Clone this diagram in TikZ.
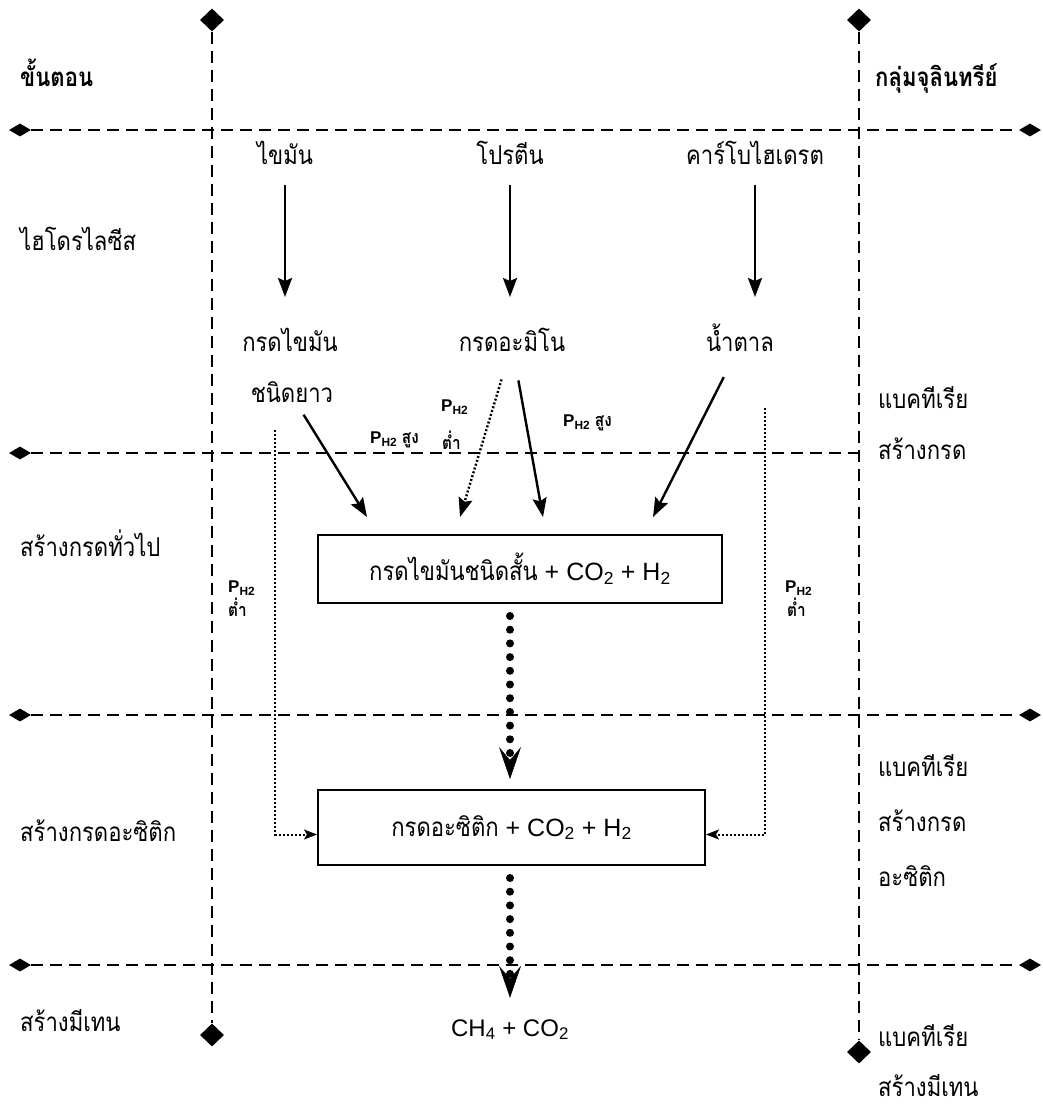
\documentclass[tikz,border=0pt]{standalone}
\usepackage{fontspec}
\setmainfont{Liberation Sans}
\newfontfamily\thai[Script=Thai,FakeStretch=0.85]{Loma}
\usetikzlibrary{arrows.meta,shapes.geometric}
\begin{document}
\begin{tikzpicture}[x=1pt,y=-1pt,
  grid/.style={line width=2.8pt,dash pattern=on 12pt off 7pt},
  vdia/.style={diamond,fill=black,inner sep=0pt,minimum width=24pt,minimum height=23pt},
  hdia/.style={diamond,fill=black,inner sep=0pt,minimum width=22pt,minimum height=13pt},
  th/.style={font=\thai\fontsize{26}{30}\selectfont,inner sep=0pt,text height=19pt,text depth=7pt},
  lbl/.style={th,anchor=west},
  hdr/.style={lbl,font=\thai\bfseries\fontsize{26}{30}\selectfont},
  box/.style={draw,line width=2pt,inner sep=0pt,font=\fontsize{25}{29}\selectfont},
  arr/.style={line width=2.4pt,-{Stealth[length=19pt,width=14pt,inset=3pt]}},
  tdot/.style={line width=2pt,dash pattern=on 2pt off 2pt},
  sarr/.style={-{Stealth[length=13pt,width=10pt,inset=3pt]}},
  bdot/.style={line width=8pt,line cap=round,dash pattern=on 0pt off 13.7pt,
    -{Stealth[length=32pt,width=22pt,inset=13pt,line width=0.5pt]}},
  ph/.style={font=\bfseries\fontsize{17}{19}\selectfont,inner sep=0pt,anchor=west},
  phth/.style={font=\thai\bfseries\fontsize{18}{20}\selectfont,inner sep=0pt,anchor=west}
]
\useasboundingbox (0,0) rectangle (1042,1106);
% grid lines
\node[vdia] (dTL) at (212,20) {};
\node[vdia] (dBL) at (212,1035) {};
\node[vdia] (dTR) at (859,20) {};
\node[vdia] (dBR) at (859,1052) {};
\draw[grid] (dTL) -- (dBL);
\draw[grid] (dTR) -- (dBR);
\node[hdia] (h1L) at (20,130) {};
\node[hdia] (h1R) at (1030,130) {};
\node[hdia] (h2L) at (20,453) {};
\coordinate (h2R) at (858,453);
\node[hdia] (h3L) at (20,715) {};
\node[hdia] (h3R) at (1030,715) {};
\node[hdia] (h4L) at (20,965) {};
\node[hdia] (h4R) at (1030,965) {};
\draw[grid] (h1L) -- (h1R);
\draw[grid] (h2L) -- (h2R);
\draw[grid] (h3L) -- (h3R);
\draw[grid] (h4L) -- (h4R);
% left labels
\node[hdr] (lh) at (20,80) {ขั้นตอน};
\node[lbl] (l1) at (20,244) {ไฮโดรไลซีส};
\node[lbl] (l2) at (20,550) {สร้างกรดทั่วไป};
\node[lbl] (l3) at (20,835) {สร้างกรดอะซิติก};
\node[lbl] (l4) at (20,1025) {สร้างมีเทน};
% right labels
\node[hdr] (rh) at (875,80) {กลุ่มจุลินทรีย์};
\node[lbl] (r1a) at (878,402) {แบคทีเรีย};
\node[lbl] (r1b) at (878,453) {สร้างกรด};
\node[lbl] (r2a) at (878,770) {แบคทีเรีย};
\node[lbl] (r2b) at (878,825) {สร้างกรด};
\node[lbl] (r2c) at (878,880) {อะซิติก};
\node[lbl] (r3a) at (878,1040) {แบคทีเรีย};
\node[lbl] (r3b) at (878,1090) {สร้างมีเทน};
% substrates
\node[th] (n1) at (285,158) {ไขมัน};
\node[th] (n2) at (510,158) {โปรตีน};
\node[th] (n3) at (755,158) {คาร์โบไฮเดรต};
\node[th] (m1) at (290,345) {กรดไขมัน};
\node[th] (m1b) at (292,396) {ชนิดยาว};
\node[th] (m2) at (512,345) {กรดอะมิโน};
\node[th] (m3) at (740,345) {น้ำตาล};
\draw[arr,shorten <=27pt,shorten >=48pt] (n1.center) -- (n1.center |- m1.center);
\draw[arr,shorten <=27pt,shorten >=48pt] (n2.center) -- (n2.center |- m2.center);
\draw[arr,shorten <=27pt,shorten >=48pt] (n3.center) -- (n3.center |- m3.center);
% boxes
\node[box,minimum width=404pt,minimum height=68pt] (b1) at (520,569)
  {{\thai\fontsize{26}{30}\selectfont กรดไขมันชนิดสั้น} + CO\textsubscript{2} + H\textsubscript{2}};
\node[box,minimum width=387pt,minimum height=75pt] (b2) at (511.5,827.5)
  {{\thai\fontsize{26}{30}\selectfont กรดอะซิติก} + CO\textsubscript{2} + H\textsubscript{2}};
\node[th,font=\fontsize{24}{28}\selectfont] (ch) at (510,1030) {CH\textsubscript{4} + CO\textsubscript{2}};
% converging arrows
\coordinate (tA) at (367,517);
\coordinate (tB) at (460,517);
\coordinate (tC) at (543,517);
\coordinate (tD) at (653,517);
\draw[arr,shorten <=22pt] (m1b.center) -- (tA);
\draw[arr,line width=2.4pt,dash pattern=on 2pt off 2pt,shorten <=36pt] (m2.center) -- (tB);
\draw[arr,shorten <=36pt] (m2.center) -- (tC);
\draw[arr,shorten <=36pt] (m3.center) -- (tD);
% big dotted arrows
\draw[bdot,shorten <=12pt,shorten >=10pt] (b1.south -| 510,0) -- (b2.north -| 510,0);
\draw[bdot,shorten <=12pt,shorten >=19pt] (b2.south -| 510,0) -- (ch.north);
% side dotted arrows
\coordinate (sL) at (275,430);
\coordinate (sR) at (765,408);
\draw[tdot,sarr] (sL) |- ([yshift=-7pt]b2.west);
\draw[tdot,sarr] (sR) |- ([yshift=-7pt]b2.east);
% P_H2 labels
\node[ph] (p1) at (370,440) {P\textsubscript{H2} {\thai\fontsize{18}{20}\selectfont สูง}};
\node[ph] (p2) at (441,407) {P\textsubscript{H2}};
\node[phth] (p2t) at (442,440) {ต่ำ};
\node[ph] (p3) at (563,423) {P\textsubscript{H2} {\thai\fontsize{18}{20}\selectfont สูง}};
\node[ph] (p4) at (228,588) {P\textsubscript{H2}};
\node[phth] (p4t) at (228,607) {ต่ำ};
\node[ph] (p5) at (785,588) {P\textsubscript{H2}};
\node[phth] (p5t) at (787,607) {ต่ำ};
\end{tikzpicture}
\end{document}
